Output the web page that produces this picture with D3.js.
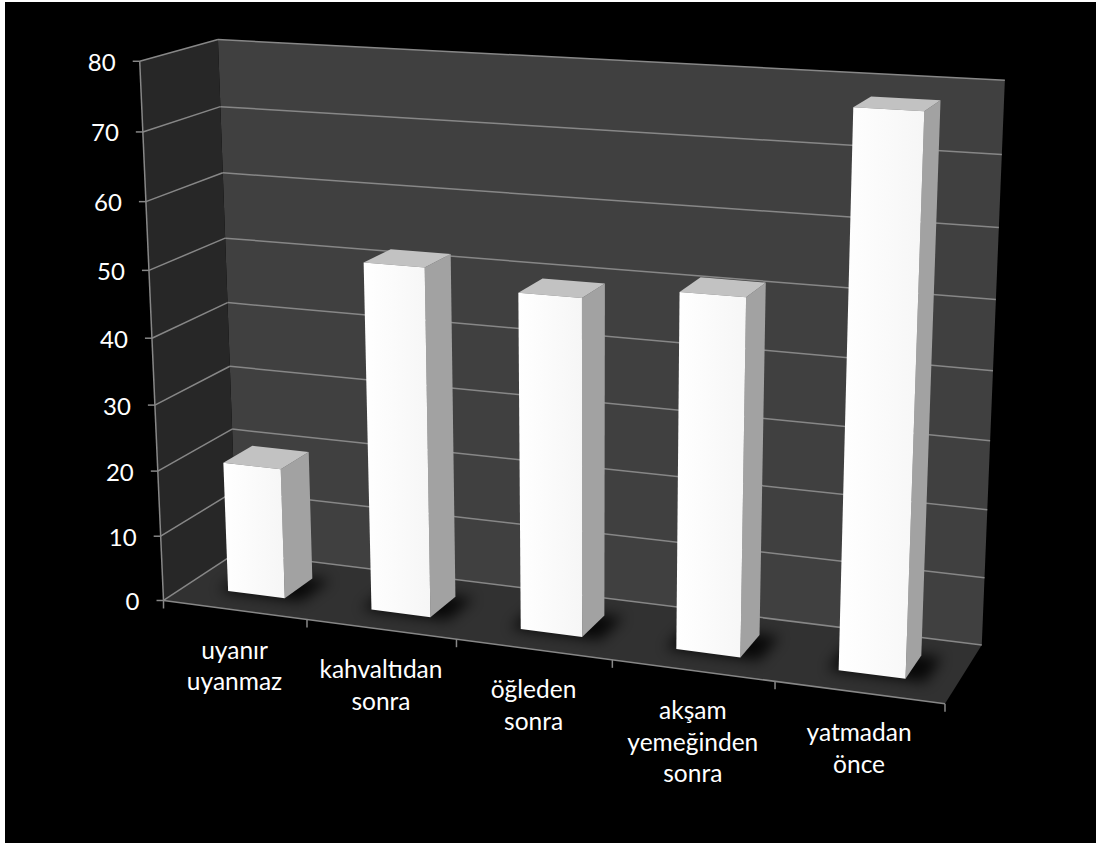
<!DOCTYPE html>
<html>
<head>
<meta charset="utf-8">
<script src="https://cdn.jsdelivr.net/npm/d3@7"></script>
<style>
  html, body { margin: 0; padding: 0; background: #ffffff; }
  svg { display: block; }
</style>
</head>
<body>
<script>
// ---- data -------------------------------------------------------------
const categories = ["uyanır uyanmaz", "kahvaltıdan sonra", "öğleden sonra", "akşam yemeğinden sonra", "yatmadan önce"];
const values = [20, 52, 49.5, 51.5, 78];
const yTicks = [0, 10, 20, 30, 40, 50, 60, 70, 80];

// ---- page -------------------------------------------------------------
const W = 1096, H = 843;
const svg = d3.select("body").append("svg").attr("width", W).attr("height", H);
const defs = svg.append("defs");

svg.append("rect").attr("x", 5).attr("y", 2).attr("width", W - 5).attr("height", H - 2).attr("fill", "#000");

// ---- 3-D box: unit cube (u across, v up, w into the page) --------------
// screen anchors of the plot box corners, used to solve a 3x4 perspective camera
const anchors = [
  [0, 0, 0, 164, 600], [0, 1, 0, 140, 62], [0, 1, 1, 218, 39], [0, 0, 1, 237, 554],
  [1, 1, 1, 1005, 80], [1, 0, 1, 982, 644], [1, 0, 0, 945, 704],
  [0.2, 0, 0, 307, 619], [0.8, 0, 0, 775, 683],
  [0, 0.625, 0, 149, 270], [0, 0.875, 1, 220, 107], [1, 0.875, 1, 1002, 155],
  [0, 0.25, 0, 157, 470], [0, 0.25, 1, 232, 429], [1, 0.125, 1, 984, 577]
];

function solveCamera(pts) {
  const n = 11;
  const M = Array.from({ length: n }, () => new Array(n + 1).fill(0));
  const addRow = (row, rhs) => {
    for (let i = 0; i < n; i++) {
      for (let j = 0; j < n; j++) M[i][j] += row[i] * row[j];
      M[i][n] += row[i] * rhs;
    }
  };
  for (const [U, V, Wd, x, y] of pts) {
    addRow([U, V, Wd, 1, 0, 0, 0, 0, -x * U, -x * V, -x * Wd], x);
    addRow([0, 0, 0, 0, U, V, Wd, 1, -y * U, -y * V, -y * Wd], y);
  }
  for (let c = 0; c < n; c++) {
    let piv = c;
    for (let r = c + 1; r < n; r++) if (Math.abs(M[r][c]) > Math.abs(M[piv][c])) piv = r;
    [M[c], M[piv]] = [M[piv], M[c]];
    for (let r = 0; r < n; r++) {
      if (r === c) continue;
      const f = M[r][c] / M[c][c];
      for (let k = c; k <= n; k++) M[r][k] -= f * M[c][k];
    }
  }
  return M.map((row, i) => row[n] / row[i]);
}
const P = solveCamera(anchors);
function project(U, V, Wd) {
  const d = P[8] * U + P[9] * V + P[10] * Wd + 1;
  return [(P[0] * U + P[1] * V + P[2] * Wd + P[3]) / d,
          (P[4] * U + P[5] * V + P[6] * Wd + P[7]) / d];
}
const poly = pts => "M" + pts.map(p => project(...p).join(",")).join("L") + "Z";
const seg = (a, b) => { const p = project(...a), q = project(...b); return { x1: p[0], y1: p[1], x2: q[0], y2: q[1] }; };

// ---- scales -------------------------------------------------------------
const x = d3.scaleBand().domain(categories).range([0, 1]).paddingInner(0.6).paddingOuter(0.3);
const y = d3.scaleLinear().domain([0, 80]).range([0, 1]);
const depth = [0.3, 0.7];   // bars sit in the middle of the floor depth
const FONT = "Lato, 'Open Sans', sans-serif";

// ---- walls and floor ------------------------------------------------------
const g = svg.append("g");
g.append("path").attr("d", poly([[0, 0, 1], [1, 0, 1], [1, 1, 1], [0, 1, 1]])).attr("fill", "#404040");
g.append("path").attr("d", poly([[0, 0, 0], [0, 0, 1], [0, 1, 1], [0, 1, 0]])).attr("fill", "#272727");
g.append("path").attr("d", poly([[0, 0, 0], [1, 0, 0], [1, 0, 1], [0, 0, 1]])).attr("fill", "#313131");

// gridlines on the side wall and the back wall
const grid = g.append("g").attr("stroke", "#878787").attr("stroke-width", 1.5).attr("fill", "none");
yTicks.forEach(t => {
  const v = y(t);
  const a = seg([0, v, 0], [0, v, 1]);
  const b = seg([0, v, 1], [1, v, 1]);
  grid.append("line").attr("x1", a.x1).attr("y1", a.y1).attr("x2", a.x2).attr("y2", a.y2);
  grid.append("line").attr("x1", b.x1).attr("y1", b.y1).attr("x2", b.x2).attr("y2", b.y2);
});

// value axis along the front edge of the side wall
const axis = g.append("g").attr("stroke", "#878787").attr("stroke-width", 1.5);
{
  const s = seg([0, 0, 0], [0, 1, 0]);
  axis.append("line").attr("x1", s.x1).attr("y1", s.y1).attr("x2", s.x2).attr("y2", s.y2);
}
yTicks.forEach(t => {
  const [px, py] = project(0, y(t), 0);
  axis.append("line").attr("x1", px - 7).attr("y1", py).attr("x2", px).attr("y2", py);
  g.append("text").attr("x", px - 24).attr("y", py).attr("text-anchor", "end")
    .attr("dominant-baseline", "central").attr("fill", "#ffffff")
    .attr("font-family", FONT).attr("font-size", 24)
    .text(t);
});

// category axis along the front edge of the floor
{
  const s = seg([0, 0, 0], [1, 0, 0]);
  axis.append("line").attr("x1", s.x1).attr("y1", s.y1).attr("x2", s.x2).attr("y2", s.y2);
}
d3.range(categories.length + 1).forEach(i => {
  const [px, py] = project(i * x.step(), 0, 0);
  axis.append("line").attr("x1", px).attr("y1", py).attr("x2", px).attr("y2", py + 8);
});

categories.forEach(c => {
  const cu = x(c) + x.bandwidth() / 2;
  const [px, py] = project(cu, 0, 0);
  const t = g.append("text").attr("text-anchor", "middle").attr("fill", "#ffffff")
    .attr("font-family", FONT).attr("font-size", 24.5);
  c.split(" ").forEach((word, i) => {
    t.append("tspan").attr("x", px).attr("y", py + 49 + i * 31.5).text(word);
  });
});

// ---- bars -------------------------------------------------------------------
const blur = defs.append("filter").attr("id", "soft").attr("x", "-50%").attr("y", "-50%").attr("width", "200%").attr("height", "200%");
blur.append("feGaussianBlur").attr("stdDeviation", 7);

const front = defs.append("linearGradient").attr("id", "frontFace").attr("x1", 0).attr("x2", 1).attr("y1", 0).attr("y2", 0);
front.append("stop").attr("offset", 0).attr("stop-color", "#ffffff");
front.append("stop").attr("offset", 1).attr("stop-color", "#f6f6f6");

const bars = svg.append("g");
categories.forEach((c, i) => {
  const u0 = x(c), u1 = x(c) + x.bandwidth();
  const [w0, w1] = depth;
  const v = y(values[i]);
  const e = 0.012;
  bars.append("path")
    .attr("d", poly([[u0 - e, 0, w0 - e], [u1 + 2 * e, 0, w0 - e], [u1 + 2 * e, 0, w1 + e], [u0 - e, 0, w1 + e]]))
    .attr("fill", "#000").attr("opacity", 0.85).attr("filter", "url(#soft)");
  bars.append("path").attr("d", poly([[u1, 0, w0], [u1, 0, w1], [u1, v, w1], [u1, v, w0]])).attr("fill", "#a2a2a2");
  bars.append("path").attr("d", poly([[u0, v, w0], [u1, v, w0], [u1, v, w1], [u0, v, w1]])).attr("fill", "#c2c2c2");
  bars.append("path").attr("d", poly([[u0, 0, w0], [u1, 0, w0], [u1, v, w0], [u0, v, w0]])).attr("fill", "url(#frontFace)");
});
</script>
</body>
</html>
